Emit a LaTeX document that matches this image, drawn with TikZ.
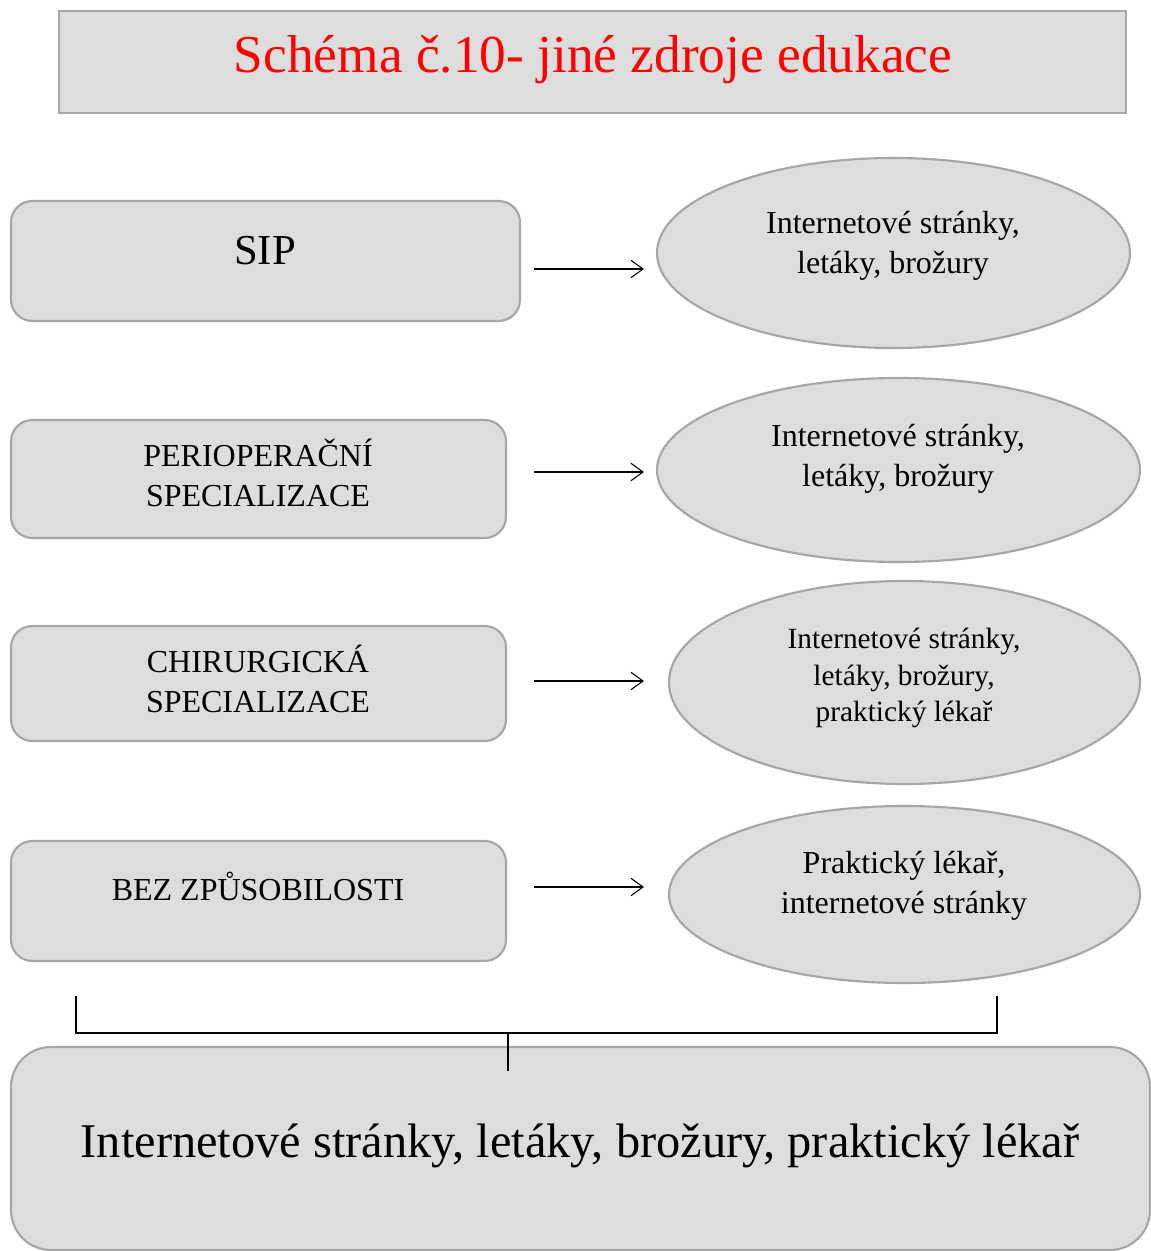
\documentclass[tikz,border=0pt]{standalone}
\usepackage{fontspec}
\setmainfont{Liberation Serif}
\usetikzlibrary{shapes.geometric,arrows.meta}
\definecolor{boxfill}{HTML}{DDDDDD}
\definecolor{boxline}{HTML}{A6A6A6}
\tikzset{
  frame/.style={draw=boxline, line width=1.6pt, fill=boxfill, inner sep=0pt},
  sbox/.style={frame, rounded corners=16pt, minimum width=371.25pt, minimum height=88.5pt},
  oval/.style={frame, ellipse},
  txt/.style={font=\fontsize{24}{30}\selectfont, align=center},
  arr/.style={-{Straight Barb[length=9pt,width=13pt]}, line width=0.8pt},
}
\begin{document}
\begin{tikzpicture}[x=0.75pt,y=-0.75pt]
  \useasboundingbox (0,0) rectangle (1151,1251);
  % title
  \node[frame, minimum width=800.25pt, minimum height=76.5pt] (title) at (592.5,62) {};
  \node[text=red, font=\fontsize{40}{48}\selectfont] (titlet) at (593,60) {Schéma č.10- jiné zdroje edukace};
  % left boxes
  \node[sbox, minimum width=381.75pt, minimum height=90pt] (sip) at (265.5,261) {};
  \node[font=\fontsize{32}{38}\selectfont] (sipt) at (265,251) {SIP};
  \node[sbox] (peri) at (258.5,479) {};
  \node[txt] (perit) at (258,473) {PERIOPERAČNÍ\\SPECIALIZACE};
  \node[sbox, minimum height=86.25pt] (chir) at (258.5,683.5) {};
  \node[txt] (chirt) at (258,679) {CHIRURGICKÁ\\SPECIALIZACE};
  \node[sbox, minimum height=90pt] (bez) at (258.5,901) {};
  \node[txt] (bezt) at (258,886) {BEZ ZPŮSOBILOSTI};
  % ellipses
  \node[oval, minimum width=354.75pt, minimum height=142.5pt] (e1) at (893.5,253) {};
  \node[txt] (e1t) at (893,246) {Internetové stránky,\\letáky, brožury};
  \node[oval, minimum width=362.25pt, minimum height=138pt] (e2) at (898.5,470) {};
  \node[txt] (e2t) at (898,459) {Internetové stránky,\\letáky, brožury};
  \node[oval, minimum width=353.25pt, minimum height=152.25pt] (e3) at (904.5,682.5) {};
  \node[txt, font=\fontsize{22}{27.4}\selectfont] (e3t) at (904,678) {Internetové stránky,\\letáky, brožury,\\praktický lékař};
  \node[oval, minimum width=353.25pt, minimum height=132.75pt] (e4) at (904.5,894.5) {};
  \node[txt] (e4t) at (904,886) {Praktický lékař,\\internetové stránky};
  % arrows
  \draw[arr, shorten <=10pt, shorten >=9pt] (sip.east |- 0,269) -- (e1.west |- 0,269);
  \draw[arr, shorten <=20.5pt, shorten >=9pt] (peri.east |- 0,472) -- (e2.west |- 0,472);
  \draw[arr, shorten <=20.5pt, shorten >=18pt] (chir.east |- 0,681) -- (e3.west |- 0,681);
  \draw[arr, shorten <=20.5pt, shorten >=18pt] (bez.east |- 0,887) -- (e4.west |- 0,887);
  % bottom box
  \node[frame, rounded corners=30pt, minimum width=854.25pt, minimum height=152.25pt] (all) at (580.5,1148.5) {};
  \node[font=\fontsize{36.3}{43}\selectfont] (allt) at (580,1146) {Internetové stránky, letáky, brožury, praktický lékař};
  % bracket
  \coordinate (brl) at (76,996);
  \coordinate (brr) at (997,996);
  \coordinate (brm) at (508,1033);
  \draw[line width=0.9pt] (brl) |- (brr |- brm) -- (brr);
  \draw[line width=0.9pt] (brm) -- (brm |- 0,1071);
\end{tikzpicture}
\end{document}
